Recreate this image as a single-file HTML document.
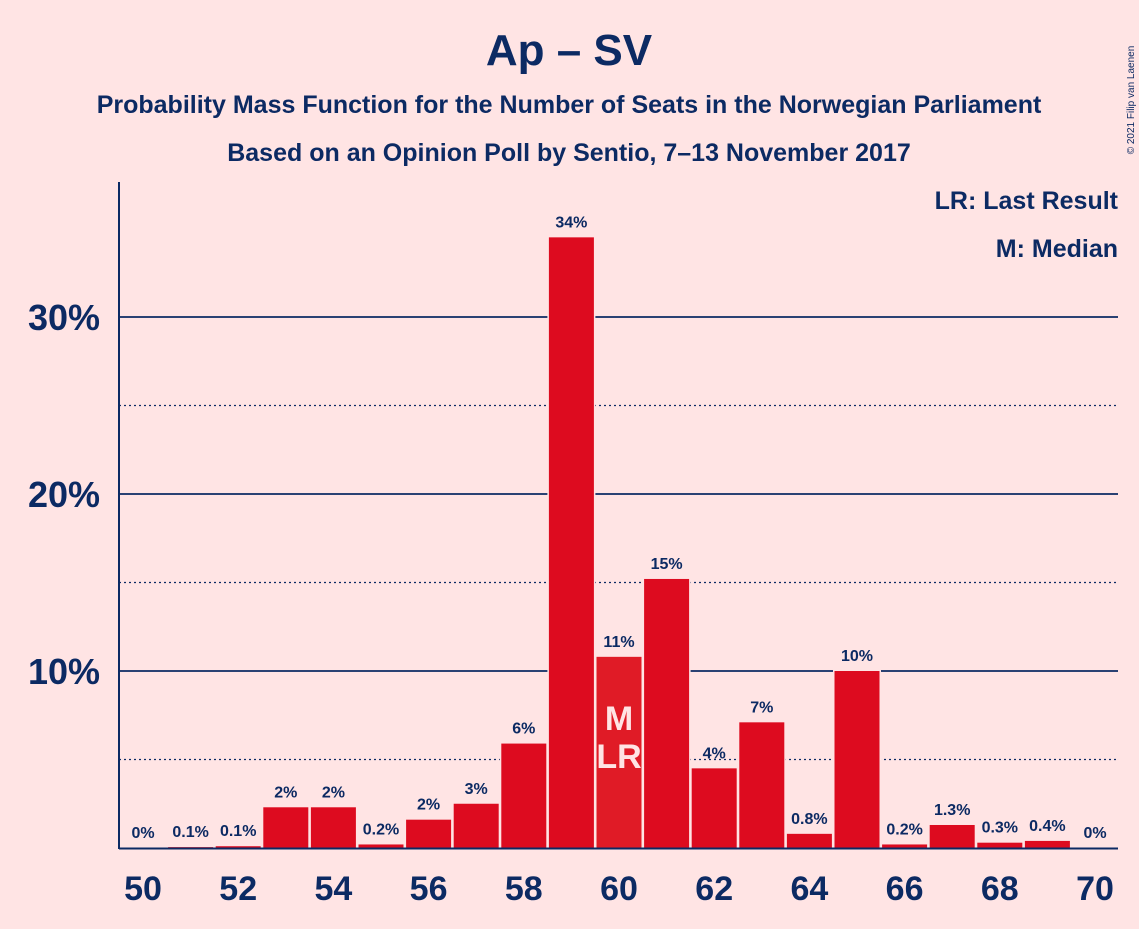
<!DOCTYPE html>
<html><head><meta charset="utf-8">
<style>
html,body{margin:0;padding:0;background:#FFE4E4;}
body{width:1139px;height:924px;overflow:hidden;font-family:"Liberation Sans",sans-serif;}
</style></head>
<body>
<svg id="chart" width="1139" height="924" xmlns="http://www.w3.org/2000/svg">
<rect width="1139" height="924" fill="#FFE4E4"/>
<text x="569" y="65" text-anchor="middle" font-size="44" font-weight="bold" fill="#0C2A63">Ap – SV</text>
<text x="569" y="113" text-anchor="middle" font-size="25" font-weight="bold" fill="#0C2A63">Probability Mass Function for the Number of Seats in the Norwegian Parliament</text>
<text x="569" y="161" text-anchor="middle" font-size="25" font-weight="bold" fill="#0C2A63">Based on an Opinion Poll by Sentio, 7–13 November 2017</text>
<text transform="translate(1134,100) rotate(-90)" font-size="10" fill="#0C2A63" text-anchor="middle">© 2021 Filip van Laenen</text>
<text x="1118" y="209" text-anchor="end" font-size="25" font-weight="bold" fill="#0C2A63">LR: Last Result</text>
<text x="1118" y="257" text-anchor="end" font-size="25" font-weight="bold" fill="#0C2A63">M: Median</text>
<g id="grid"></g>
<g id="bars"></g>
<g id="labels"></g>
<line x1="119" y1="182" x2="119" y2="849" stroke="#0C2A63" stroke-width="2"/>
<line x1="119" y1="848.5" x2="1118" y2="848.5" stroke="#0C2A63" stroke-width="2"/>
</svg>
<script>
const seats=[50,51,52,53,54,55,56,57,58,59,60,61,62,63,64,65,66,67,68,69,70];
const probs=[0,0.05,0.1,2.3,2.3,0.2,1.6,2.5,5.9,34.5,10.8,15.2,4.5,7.1,0.8,10.0,0.2,1.3,0.3,0.4,0];
const valueLabels=["0%","0.1%","0.1%","2%","2%","0.2%","2%","3%","6%","34%","11%","15%","4%","7%","0.8%","10%","0.2%","1.3%","0.3%","0.4%","0%"];
const yTicks=[10,20,30];
const yMinor=[5,15,25];
const xTickSeats=[50,52,54,56,58,60,62,64,66,68,70];
const medianSeat=60, lastResultSeat=60;
const NS="http://www.w3.org/2000/svg";
const y=v=>848-v*17.7;
const x=s=>143+(s-50)*47.6;
function mk(tag,attrs,parent,txt){const e=document.createElementNS(NS,tag);for(const k in attrs)e.setAttribute(k,attrs[k]);if(txt!=null)e.textContent=txt;parent.appendChild(e);return e;}
const grid=document.getElementById('grid'),bars=document.getElementById('bars'),labels=document.getElementById('labels');
yMinor.forEach(v=>{const l=mk('line',{x1:119,x2:1118,y1:y(v),y2:y(v),stroke:'#0C2A63','stroke-width':1.3,'stroke-dasharray':'2,3'},grid);

});
yTicks.forEach(v=>{const l=mk('line',{x1:119,x2:1118,y1:y(v),y2:y(v),stroke:'#0C2A63','stroke-width':1.8},grid);


const t=mk('text',{x:100,y:y(v)+13,'text-anchor':'end','font-size':36,'font-weight':'bold',fill:'#0C2A63'},labels,v+'%');

});
xTickSeats.forEach(s=>{const t=mk('text',{x:x(s),y:900,'text-anchor':'middle','font-size':34,'font-weight':'bold',fill:'#0C2A63'},labels,String(s));

});
seats.forEach((s,i)=>{const v=probs[i];
if(v>0){const h=v*17.7;
const bg=mk('rect',{x:x(s)-24,y:y(v)-2,width:48,height:h+2,fill:'#FFE4E4'},bars);


const r=mk('rect',{x:x(s)-22.5,y:y(v),width:45,height:h,fill:s===medianSeat?'#E01B26':'#DD0B1F'},bars);

}
const t=mk('text',{x:x(s),y:y(v)-10,'text-anchor':'middle','font-size':16,'font-weight':'bold',fill:'#0C2A63'},labels,valueLabels[i]);

});
const m=mk('text',{x:x(medianSeat),y:730,'text-anchor':'middle','font-size':34,'font-weight':'bold',fill:'#FFE4E4'},labels,'M');


const lr=mk('text',{x:x(lastResultSeat),y:768,'text-anchor':'middle','font-size':34,'font-weight':'bold',fill:'#FFE4E4'},labels,'LR');


</script>
</body></html>
